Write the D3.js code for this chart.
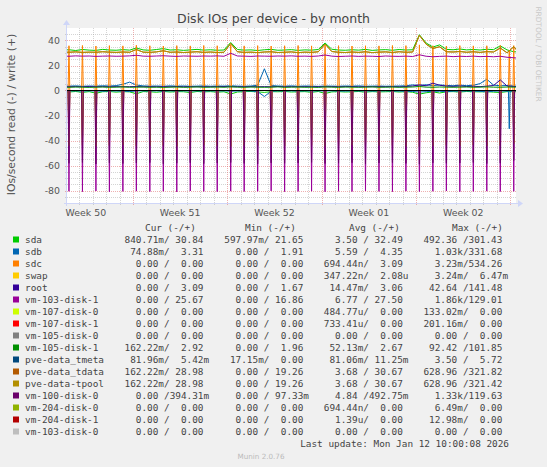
<!DOCTYPE html>
<html>
<head>
<meta charset="utf-8">
<script src="https://cdn.jsdelivr.net/npm/d3@7"></script>
<style>
  html, body { margin: 0; padding: 0; background: #f0f0f0; }
  #chart { width: 547px; height: 467px; }
  text { font-family: "DejaVu Sans", sans-serif; }
  .legend text { font-family: "DejaVu Sans Mono", monospace; white-space: pre; }
</style>
</head>
<body>
<div id="chart"></div>
<script>

// 12-hour samples, first one Dec 9 18:00
const gridStart = new Date(2025, 11, 9, 18, 0);
// daily job at 06:00, first one Dec 10
const spikeStart = new Date(2025, 11, 10, 6, 0);
const lateSpikeTime = new Date(2026, 0, 11, 22, 0);

const yTicks = [40, 20, 0, -20, -40, -60, -80];
const weekLabels = ["Week 50", "Week 51", "Week 52", "Week 01", "Week 02"];
const weekStarts = [new Date(2025, 11, 8), new Date(2025, 11, 15), new Date(2025, 11, 22),
                    new Date(2025, 11, 29), new Date(2026, 0, 5)];

const sdaWrite = [32.4, 32.6, 32.0, 32.8, 32.3, 32.1, 32.9, 32.4, 32.2, 32.7,
                  32.3, 34.0, 32.5, 32.2, 32.8, 33.5, 32.4, 32.6, 32.1, 32.5,
                  32.9, 32.3, 32.6, 32.2, 32.4, 38.4, 32.8, 32.3, 32.5, 32.0,
                  32.6, 32.9, 32.2, 32.4, 32.7, 32.1, 32.5, 32.3, 32.8, 38.0,
                  33.0, 32.4, 32.2, 32.6, 32.3, 32.9, 32.1, 32.5, 32.7, 32.2,
                  32.8, 32.4, 32.6, 44.6, 38.0, 34.8, 36.5, 32.9, 32.6, 33.2,
                  32.5, 32.8, 32.4, 33.0, 32.7, 35.7, 32.5, 31.0, 30.8];
const sdaRead = [0.9, 1.2, 0.8, 1.5, 0.9, 2.2, 1.0, 0.8, 1.3, 0.9,
                 1.1, 2.6, 0.9, 1.0, 1.4, 0.8, 1.2, 0.9, 1.0, 1.6,
                 0.8, 1.1, 0.9, 1.3, 1.0, 2.8, 1.2, 0.9, 0.8, 1.1,
                 1.5, 0.9, 1.0, 0.8, 1.2, 1.0, 0.9, 1.4, 0.8, 2.4,
                 1.1, 0.9, 1.2, 1.0, 0.8, 1.3, 0.9, 1.1, 1.0, 0.8,
                 1.2, 0.9, 1.4, 2.9, 1.8, 1.1, 2.0, 1.0, 0.9, 1.2,
                 0.8, 1.0, 1.1, 0.9, 1.3, 1.6, 0.9, 1.0, 0.84];
const sdbWrite = [3.6, 3.5, 3.7, 3.4, 3.6, 3.5, 3.8, 3.6, 3.9, 5.0,
                  6.7, 4.4, 3.7, 3.5, 3.6, 3.4, 3.7, 3.5, 3.6, 3.4,
                  3.5, 3.7, 3.4, 3.6, 3.5, 3.8, 3.5, 3.4, 3.6, 4.2,
                  17.4, 4.0, 3.6, 3.5, 3.7, 3.4, 3.6, 3.5, 3.3, 3.6,
                  3.5, 3.4, 3.6, 3.5, 3.7, 3.4, 3.5, 3.6, 3.4, 3.5,
                  3.6, 3.8, 4.5, 4.0, 4.6, 3.9, 4.4, 4.1, 3.8, 4.3,
                  3.9, 4.2, 5.5, 9.0, 4.3, 3.8, 4.0, 3.6, 3.31];
const sdbRead = [0.3, 0.4, 0.3, 0.5, 0.3, 0.4, 0.6, 0.3, 0.4, 0.5,
                 0.8, 0.4, 0.3, 0.4, 0.3, 0.5, 0.3, 0.4, 0.3, 0.4,
                 0.3, 0.5, 0.3, 0.4, 0.3, 0.6, 0.4, 0.3, 0.4, 0.9,
                 4.8, 0.6, 0.3, 0.4, 0.3, 0.5, 0.3, 0.4, 0.3, 0.4,
                 0.3, 0.4, 0.5, 0.3, 0.4, 0.3, 0.5, 0.4, 0.3, 0.4,
                 0.5, 0.6, 0.8, 1.2, 0.9, 0.7, 0.6, 1.0, 0.5, 0.6,
                 0.4, 0.5, 0.7, 1.1, 0.6, 0.4, 0.5, 0.5, 0.07];
const rootWrite = [3.1, 3.0, 3.1, 3.0, 3.2, 3.0, 3.1, 3.0, 3.1, 3.0,
                   3.1, 3.2, 3.0, 3.1, 3.0, 3.1, 3.0, 3.2, 3.0, 3.1,
                   3.0, 3.1, 3.0, 3.1, 3.2, 3.0, 3.1, 3.0, 3.1, 3.0,
                   3.1, 3.0, 3.2, 3.0, 3.1, 3.0, 3.1, 3.0, 3.1, 3.0,
                   3.1, 3.0, 3.1, 3.2, 3.0, 3.1, 3.0, 3.1, 3.0, 3.1,
                   3.0, 3.2, 3.6, 4.5, 3.8, 5.9, 4.2, 3.5, 3.3, 3.6,
                   3.2, 3.4, 3.1, 3.5, 4.0, 8.5, 3.6, 3.2, 3.09];
const vm103Write = [27.6, 27.4, 27.7, 27.5, 27.6, 27.3, 27.5, 27.6, 27.4, 27.5,
                    27.7, 28.2, 27.5, 27.4, 27.6, 27.8, 27.5, 27.3, 27.6, 27.5,
                    27.4, 27.6, 27.5, 27.7, 27.4, 29.8, 27.6, 27.5, 27.3, 27.6,
                    27.5, 27.4, 27.6, 27.5, 27.7, 27.4, 27.5, 27.3, 27.6, 28.4,
                    27.5, 27.2, 27.4, 27.6, 27.3, 27.5, 27.4, 27.2, 27.6, 27.4,
                    27.3, 27.5, 27.2, 28.6, 27.4, 27.0, 27.3, 27.5, 27.1, 27.4,
                    27.2, 27.5, 27.1, 27.3, 27.0, 27.4, 26.6, 26.2, 25.67];
const vm105Write = [2.7, 2.6, 2.8, 2.7, 2.5, 2.7, 2.8, 2.6, 2.7, 2.9,
                    2.6, 2.7, 2.8, 2.6, 2.7, 2.5, 2.7, 2.8, 2.6, 2.7,
                    2.9, 2.6, 2.7, 2.8, 2.6, 3.0, 2.7, 2.6, 2.8, 2.7,
                    2.6, 2.7, 2.9, 2.6, 2.7, 2.8, 2.6, 2.7, 2.5, 2.9,
                    2.7, 2.6, 2.8, 2.7, 2.6, 2.7, 2.9, 2.6, 2.7, 2.8,
                    2.6, 2.7, 2.8, 3.2, 2.7, 2.6, 2.8, 2.7, 2.6, 2.7,
                    2.8, 2.6, 2.7, 2.9, 2.7, 2.6, 2.8, 2.7, 2.92];
const tpoolWrite = [30.8, 30.6, 30.9, 30.5, 30.7, 30.6, 31.0, 30.7, 30.5, 30.8,
                    30.6, 32.8, 30.7, 30.5, 30.9, 31.8, 30.6, 30.8, 30.4, 30.7,
                    31.0, 30.5, 30.8, 30.4, 30.6, 37.6, 31.0, 30.5, 30.7, 30.3,
                    30.8, 31.0, 30.4, 30.6, 30.9, 30.3, 30.7, 30.5, 31.0, 37.2,
                    31.2, 30.6, 30.4, 30.8, 30.5, 31.0, 30.3, 30.7, 30.9, 30.4,
                    31.0, 30.6, 30.8, 44.2, 37.0, 33.6, 35.0, 31.0, 30.8, 31.2,
                    30.6, 31.0, 30.5, 31.1, 30.8, 34.0, 30.2, 35.0, 28.98];

// daily 06:00 peaks
const sdcWriteSpikes = [35.8, 36.0, 35.6, 35.9, 35.7, 36.2, 35.8, 35.6, 35.9, 35.7,
                        36.0, 35.8, 36.4, 35.7, 35.9, 35.6, 35.8, 36.0, 35.7, 36.3,
                        35.9, 35.6, 35.8, 35.7, 36.0, 35.9, 36.5, 35.8, 35.6, 35.9,
                        35.7, 35.8, 36.0, 35.9];
const vm103ReadSpikes = [80.6, 80.9, 80.4, 81.0, 80.7, 80.5, 80.8, 80.6, 81.1, 80.4,
                         80.7, 80.9, 80.5, 80.8, 80.6, 80.3, 80.9, 80.7, 80.5, 81.0,
                         80.6, 80.8, 80.4, 80.7, 80.9, 80.5, 80.8, 80.6, 80.4, 80.9,
                         80.7, 80.5, 80.8, 80.6];
const tdataReadSpikes = [44.2, 43.8, 44.5, 44.0, 43.6, 44.3, 44.1, 43.9, 44.6, 44.0,
                         43.7, 44.2, 44.8, 43.9, 44.1, 43.6, 44.4, 44.0, 43.8, 44.5,
                         44.1, 43.7, 44.3, 44.0, 43.9, 44.6, 45.0, 44.2, 43.8, 44.1,
                         43.6, 44.3, 44.0, 42.5];
const vm100ReadSpikes = [58.2, 57.6, 58.8, 57.9, 58.4, 58.0, 57.7, 58.6, 58.1, 57.8,
                         58.5, 58.0, 57.6, 58.3, 58.7, 57.9, 58.2, 58.0, 57.5, 58.4,
                         58.1, 57.8, 58.6, 58.0, 57.7, 58.3, 58.9, 57.9, 58.2, 58.0,
                         57.6, 58.4, 58.1, 56.0];
const sdcLateSpike = 32.0;
const sdbLateSpike = 30.6;

const names = ["sda", "sdb", "sdc", "swap", "root", "vm-103-disk-1", "vm-107-disk-0",
               "vm-107-disk-1", "vm-105-disk-0", "vm-105-disk-1", "pve-data_tmeta",
               "pve-data_tdata", "pve-data-tpool", "vm-100-disk-0", "vm-204-disk-0",
               "vm-204-disk-1", "vm-103-disk-0"];
const colors = ["#00CC00", "#0066B3", "#FF8000", "#FFCC00", "#330099", "#990099", "#CCFF00",
                "#FF0000", "#808080", "#008F00", "#00487D", "#B35A00", "#B38F00", "#6B006B",
                "#8FB300", "#B30000", "#BEBEBE"];
const curText = ["840.71m/ 30.84", " 74.88m/  3.31", "  0.00 /  0.00", "  0.00 /  0.00",
                 "  0.00 /  3.09", "  0.00 / 25.67", "  0.00 /  0.00", "  0.00 /  0.00",
                 "  0.00 /  0.00", "162.22m/  2.92", " 81.96m/  5.42m", "162.22m/ 28.98",
                 "162.22m/ 28.98", "  0.00 /394.31m", "  0.00 /  0.00", "  0.00 /  0.00",
                 "  0.00 /  0.00"];
const minText = ["597.97m/ 21.65", "  0.00 /  1.91", "  0.00 /  0.00", "  0.00 /  0.00",
                 "  0.00 /  1.67", "  0.00 / 16.86", "  0.00 /  0.00", "  0.00 /  0.00",
                 "  0.00 /  0.00", "  0.00 /  1.96", " 17.15m/  0.00", "  0.00 / 19.26",
                 "  0.00 / 19.26", "  0.00 / 97.33m", "  0.00 /  0.00", "  0.00 /  0.00",
                 "  0.00 /  0.00"];
const avgText = ["  3.50 / 32.49", "  5.59 /  4.35", "694.44n/  3.09", "347.22n/  2.08u",
                 " 14.47m/  3.06", "  6.77 / 27.50", "484.77u/  0.00", "733.41u/  0.00",
                 "  0.00 /  0.00", " 52.13m/  2.67", " 81.06m/ 11.25m", "  3.68 / 30.67",
                 "  3.68 / 30.67", "  4.84 /492.75m", "694.44n/  0.00", "  1.39u/  0.00",
                 "  0.00 /  0.00"];
const maxText = ["492.36 /301.43", "  1.03k/331.68", "  3.23m/534.26", "  3.24m/  6.47m",
                 " 42.64 /141.48", "  1.86k/129.01", "133.02m/  0.00", "201.16m/  0.00",
                 "  0.00 /  0.00", " 92.42 /101.85", "  3.50 /  5.72", "628.96 /321.82",
                 "628.96 /321.42", "  1.33k/119.63", "  6.49m/  0.00", " 12.98m/  0.00",
                 "  0.00 /  0.00"];

class DiskChart {

    constructor(parentElement) {
        this.parentElement = parentElement;
        this.width = 547;
        this.height = 467;
        this.initVis();
    }

    initVis() {
        let vis = this;

        vis.svg = d3.select("#" + vis.parentElement)
            .append("svg")
            .attr("width", vis.width)
            .attr("height", vis.height);

        vis.svg.append("rect")
            .attr("width", vis.width)
            .attr("height", vis.height)
            .attr("fill", "#f0f0f0");

        vis.x = d3.scaleTime()
            .domain([new Date(2025, 11, 10, 2, 30), new Date(2026, 0, 12, 10, 0)])
            .range([67, 516]);
        vis.y = d3.scaleLinear()
            .domain([-90, 50])
            .range([203, 28]);

        let [x0, x1] = vis.x.range();
        let [y0, y1] = vis.y.range();

        vis.svg.append("rect")
            .attr("x", x0).attr("y", y1)
            .attr("width", x1 - x0).attr("height", y0 - y1)
            .attr("fill", "#ffffff");

        vis.svg.append("clipPath").attr("id", "plot-clip")
            .append("rect")
            .attr("x", x0).attr("y", y1)
            .attr("width", x1 - x0).attr("height", y0 - y1);

        // minor grid: every day / every 5 units, major: mondays / every 20
        let days = d3.timeDay.range(vis.x.domain()[0], vis.x.domain()[1]);
        let mondays = d3.timeMonday.range(vis.x.domain()[0], vis.x.domain()[1]);
        let minorY = d3.range(-85, 50, 5).filter(v => v % 20 !== 0);
        let px = v => Math.round(v) + 0.5;

        let grid = vis.svg.append("g").attr("class", "grid")
            .attr("shape-rendering", "crispEdges");

        let gridLines = (data, vertical, color, opacity) => {
            grid.append("g").selectAll("line").data(data).enter()
                .append("line")
                .attr("x1", d => vertical ? px(vis.x(d)) : x0 - 2)
                .attr("x2", d => vertical ? px(vis.x(d)) : x1)
                .attr("y1", d => vertical ? y1 : px(vis.y(d)))
                .attr("y2", d => vertical ? y0 + 2 : px(vis.y(d)))
                .attr("stroke", color).attr("stroke-opacity", opacity)
                .attr("stroke-dasharray", "1,1");
        };
        gridLines(days.filter(d => d.getDay() !== 1), true, "#a0a0a0", 0.45);
        gridLines(minorY, false, "#a0a0a0", 0.45);
        gridLines(mondays, true, "#e07070", 0.55);
        gridLines(yTicks, false, "#e07070", 0.55);

        // tick labels
        vis.svg.append("g").selectAll("text").data(yTicks).enter()
            .append("text")
            .attr("x", 60).attr("y", d => vis.y(d) + 3.5)
            .attr("text-anchor", "end")
            .attr("font-size", "9.4px").attr("fill", "#555")
            .text(d => d);

        vis.svg.append("g").selectAll("text").data(weekLabels).enter()
            .append("text")
            .attr("x", (d, i) => vis.x(d3.timeHour.offset(weekStarts[i], 84)))
            .attr("y", 216)
            .attr("text-anchor", "middle")
            .attr("font-size", "9.4px").attr("fill", "#555")
            .text(d => d);

        // titles
        vis.svg.append("text")
            .attr("x", 273.5).attr("y", 23)
            .attr("text-anchor", "middle")
            .attr("font-size", "12.5px").attr("fill", "#444")
            .text("Disk IOs per device - by month");

        vis.svg.append("text")
            .attr("transform", "translate(14.5,114.5) rotate(-90)")
            .attr("text-anchor", "middle")
            .attr("font-size", "10.8px").attr("fill", "#555")
            .text("IOs/second read (-) / write (+)");

        vis.svg.append("text")
            .attr("transform", "translate(536,54) rotate(90)")
            .attr("text-anchor", "middle")
            .attr("font-size", "7.4px").attr("fill", "#c8c8c8")
            .text("RRDTOOL / TOBI OETIKER");

        vis.wrangleData();
    }

    wrangleData() {
        let vis = this;

        vis.gridTimes = sdaWrite.map((_, i) => d3.timeHour.offset(gridStart, 12 * i));
        vis.spikeTimes = sdcWriteSpikes.map((_, k) => d3.timeDay.offset(spikeStart, k));

        // each device: write (+) and read (-) traces
        let defs = [
            { write: sdaWrite, read: sdaRead },
            { write: sdbWrite, read: sdbRead, readLate: sdbLateSpike },
            { writeSpikes: sdcWriteSpikes, writeLate: sdcLateSpike },
            {},
            { write: rootWrite },
            { write: vm103Write, readSpikes: vm103ReadSpikes },
            {}, {}, {},
            { write: vm105Write },
            {},
            { write: tpoolWrite, readSpikes: tdataReadSpikes },
            { write: tpoolWrite, readSpikes: tdataReadSpikes },
            { readSpikes: vm100ReadSpikes },
            {}, {}, {}
        ];

        vis.lines = [];
        defs.forEach((d, i) => {
            vis.lines.push({ color: colors[i], points: vis.buildPoints(d.write, d.writeSpikes, d.writeLate, 1) });
            if (d.read || d.readSpikes || d.readLate != null) {
                vis.lines.push({ color: colors[i], points: vis.buildPoints(d.read, d.readSpikes, d.readLate, -1) });
            }
        });

        vis.updateVis();
    }

    buildPoints(grid, spikes, late, sign) {
        let vis = this;
        let base = i => grid ? grid[i] : 0;
        let skip = new Set(spikes ? spikes.map((_, k) => 2 * k + 1) : []);
        let pts = [];
        let half = 90; // minutes either side of a peak

        vis.gridTimes.forEach((t, i) => {
            if (!skip.has(i)) pts.push({ t: t, v: base(i) });
        });
        if (spikes) {
            spikes.forEach((v, k) => {
                let t = vis.spikeTimes[k], b = base(2 * k + 1);
                pts.push({ t: d3.timeMinute.offset(t, -half), v: b }, { t: t, v: v },
                         { t: d3.timeMinute.offset(t, half), v: b });
            });
        }
        if (late != null) {
            let b = base(66);
            pts.push({ t: d3.timeMinute.offset(lateSpikeTime, -half), v: b },
                     { t: lateSpikeTime, v: late },
                     { t: d3.timeMinute.offset(lateSpikeTime, half), v: b });
        }
        pts.sort((a, b) => a.t - b.t);
        return pts.map(p => ({ t: p.t, v: sign * p.v }));
    }

    updateVis() {
        let vis = this;

        let line = d3.line()
            .x(d => vis.x(d.t))
            .y(d => vis.y(d.v));

        vis.svg.append("g")
            .attr("clip-path", "url(#plot-clip)")
            .selectAll("path").data(vis.lines).enter()
            .append("path")
            .attr("d", d => line(d.points))
            .attr("fill", "none")
            .attr("stroke", d => d.color)
            .attr("stroke-width", 1);

        let [x0, x1] = vis.x.range();
        let [y0, y1] = vis.y.range();

        // zero line
        vis.svg.append("line")
            .attr("x1", x0).attr("x2", x1)
            .attr("y1", vis.y(0)).attr("y2", vis.y(0))
            .attr("stroke", "#000").attr("stroke-width", 1);

        // axes with arrows
        let axisColor = "#cfd6f8";
        vis.svg.append("line")
            .attr("x1", x0 - 0.5).attr("x2", x0 - 0.5)
            .attr("y1", y0 + 3).attr("y2", y1 - 3)
            .attr("stroke", axisColor);
        vis.svg.append("line")
            .attr("x1", x0 - 3).attr("x2", x1 + 3)
            .attr("y1", y0 + 0.5).attr("y2", y0 + 0.5)
            .attr("stroke", axisColor);
        vis.svg.append("path")
            .attr("d", `M${x0 - 4},${y1 - 3} L${x0 - 0.5},${y1 - 8} L${x0 + 3},${y1 - 3} Z`)
            .attr("fill", axisColor);
        vis.svg.append("path")
            .attr("d", `M${x1 + 2},${y0 - 3} L${x1 + 7},${y0 + 0.5} L${x1 + 2},${y0 + 4} Z`)
            .attr("fill", axisColor);

        // legend
        let legend = vis.svg.append("g").attr("class", "legend")
            .attr("font-size", "9.4px").attr("fill", "#444");

        [["Cur (-/+)", 145], ["Min (-/+)", 245], ["Avg (-/+)", 349], ["Max (-/+)", 452]].forEach(h => {
            legend.append("text").attr("x", h[1]).attr("y", 231).text(h[0]);
        });

        let rows = legend.selectAll(".row").data(names).enter()
            .append("g")
            .attr("class", "row")
            .attr("transform", (d, i) => `translate(0, ${243 + 12 * i})`);

        rows.append("rect")
            .attr("x", 13).attr("y", -6.5)
            .attr("width", 6).attr("height", 6)
            .attr("fill", (d, i) => colors[i]);
        rows.append("text").attr("x", 25).text(d => d);
        rows.append("text").attr("x", 124.5).text((d, i) => curText[i]);
        rows.append("text").attr("x", 224.3).text((d, i) => minText[i]);
        rows.append("text").attr("x", 323.8).text((d, i) => avgText[i]);
        rows.append("text").attr("x", 423.4).text((d, i) => maxText[i]);

        legend.append("text")
            .attr("x", 509).attr("y", 447)
            .attr("text-anchor", "end")
            .text("Last update: Mon Jan 12 10:00:08 2026");

        vis.svg.append("text")
            .attr("x", 261).attr("y", 459)
            .attr("text-anchor", "middle")
            .attr("font-size", "7.2px").attr("fill", "#bbb")
            .text("Munin 2.0.76");
    }
}

new DiskChart("chart");
</script>
</body>
</html>
